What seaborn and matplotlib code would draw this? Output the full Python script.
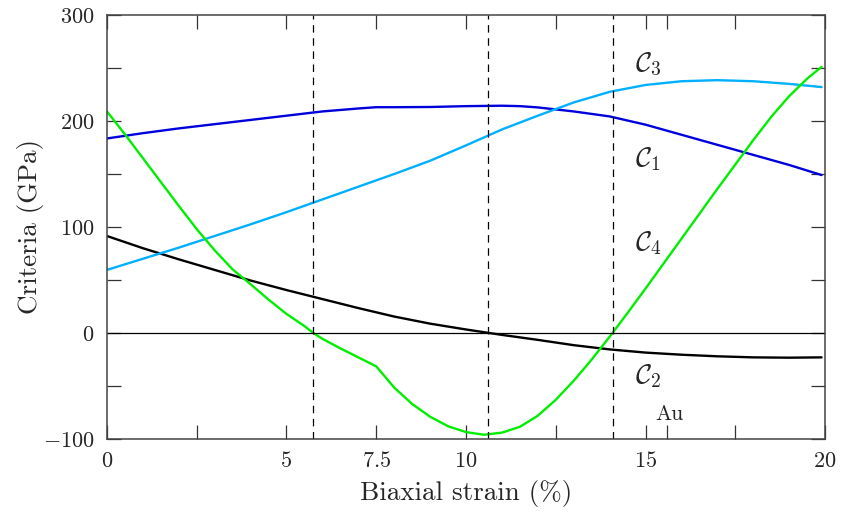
import numpy as np
import pandas as pd
import matplotlib
matplotlib.use("Agg")
import matplotlib.pyplot as plt
import seaborn as sns

# strain values (%) and criteria (GPa)
strain_c1 = [0, 1, 2, 3, 4, 5, 6, 7, 7.5, 8, 9, 10, 11, 11.5, 12, 13, 14, 15, 16, 17, 18, 19, 19.9]
c1 = [183.5, 188.5, 193, 197, 201, 205, 209, 211.8, 213, 213, 213.2, 214, 214.4, 214, 212.8, 209, 204.3,
      196.5, 187, 177.5, 168, 158.5, 149]

strain_c2 = [0, 1, 2, 3, 4, 5, 6, 7, 8, 9, 10, 11, 12, 13, 14, 15, 16, 17, 18, 19, 19.9]
c2 = [91.5, 80, 69.5, 59.5, 49.5, 40.5, 32, 23.5, 15.5, 8.8, 3.3, -1.8, -6.5, -11.5, -15.5, -18.5, -20.5,
      -22, -23, -23.3, -23]

strain_c3 = [0, 1, 2, 3, 4, 5, 6, 7, 8, 9, 10, 11, 12, 13, 14, 15, 16, 17, 18, 19, 19.9]
c3 = [59.5, 70, 80.5, 91.5, 102.5, 114, 126, 138, 150, 162.5, 177, 192, 205, 217.5, 227.5, 234, 237.5,
      238.5, 237.5, 235, 232]

strain_c4 = [0, 0.5, 1, 1.5, 2, 2.5, 3, 3.5, 4, 4.5, 5, 5.5, 5.75, 6, 6.5, 7, 7.5, 8, 8.5, 9, 9.5, 10,
             10.5, 11, 11.5, 12, 12.5, 13, 13.5, 14, 14.5, 15, 15.5, 16, 16.5, 17, 17.5, 18, 18.5, 19, 19.5, 19.9]
c4 = [209, 187.5, 165, 142.5, 120, 98, 78, 60, 46, 31.5, 18, 6.5, 0, -5.5, -14.5, -23, -31.5, -51.5, -67,
      -79, -88, -93.5, -96, -94, -88.5, -78, -63, -45, -25, -3.5, 19, 42, 65.5, 89, 112.5, 136, 159, 182,
      204, 223.5, 240, 251]

dashed_x = [5.75, 10.62, 14.08]

x_ticks = [0, 5, 7.5, 10, 15, 20]
x_tick_labels = ["$0$", "$5$", "$7.5$", "$10$", "$15$", "$20$"]
x_minor = [2.5, 12.5, 15.6, 17.5]
y_ticks = [-100, 0, 100, 200, 300]
y_tick_labels = ["$-100$", "$0$", "$100$", "$200$", "$300$"]
y_minor = [-50, 50, 150, 250]

labels = ["$\\mathcal{C}_1$", "$\\mathcal{C}_2$", "$\\mathcal{C}_3$", "$\\mathcal{C}_4$"]
label_pos = [(14.7, 164), (14.7, -41), (14.7, 253), (14.7, 85)]

sns.set_theme(style="ticks")
plt.rcParams["font.family"] = "serif"
plt.rcParams["font.serif"] = ["cmr10", "DejaVu Serif"]
plt.rcParams["mathtext.fontset"] = "cm"
plt.rcParams["axes.formatter.use_mathtext"] = True

fig = plt.figure(figsize=(8.42, 5.15), dpi=100)
ax = fig.add_axes([0.127, 0.1476, 0.853, 0.8233])

curves = [
    (strain_c1, c1, "#0000dd"),
    (strain_c2, c2, "black"),
    (strain_c3, c3, "#00b0ff"),
    (strain_c4, c4, "#00ee00"),
]
for xs, ys, col in curves:
    df = pd.DataFrame({"strain": xs, "crit": ys})
    sns.lineplot(data=df, x="strain", y="crit", color=col, lw=1.7, sort=False, estimator=None, ax=ax)

ax.axhline(0, color="black", lw=0.9)
for xv in dashed_x:
    ax.axvline(xv, color="black", lw=0.9, ls=(0, (6, 4.5)))

for txt, (lx, ly) in zip(labels, label_pos):
    ax.text(lx, ly, txt, fontsize=20, ha="left", va="center")
ax.text(15.27, -77, "Au", fontsize=15.5, ha="left", va="center")

ax.set_xlim(0, 20)
ax.set_ylim(-100, 300)
ax.set_xticks(x_ticks)
ax.set_xticklabels(x_tick_labels)
ax.set_xticks(x_minor, minor=True)
ax.set_yticks(y_ticks)
ax.set_yticklabels(y_tick_labels)
ax.set_yticks(y_minor, minor=True)
ax.tick_params(which="both", direction="in", top=True, right=True, length=10, width=0.9,
               labelsize=16, color="#333333", pad=9)
for s in ax.spines.values():
    s.set_color("#444444")
    s.set_linewidth(1.1)

ax.set_xlabel("Biaxial strain (%)", fontsize=19.5, labelpad=6)
ax.set_ylabel("Criteria (GPa)", fontsize=19.5, labelpad=-1)

fig.savefig("out.png", dpi=100)
